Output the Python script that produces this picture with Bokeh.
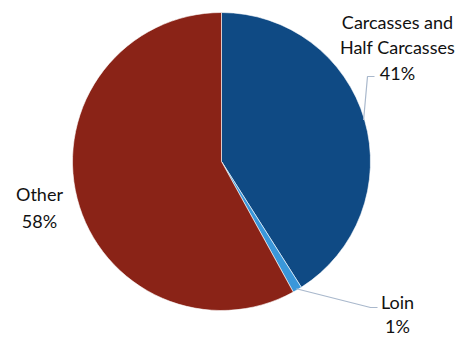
import numpy as np
from bokeh.plotting import figure
from bokeh.models import ColumnDataSource
from bokeh.core.properties import value
from bokeh.embed import file_html
from bokeh.resources import INLINE

categories = ["Carcasses and\nHalf Carcasses", "Loin", "Other"]
shares = [41, 1, 58]
colors = ["#0F4A84", "#3A97DA", "#8A2317"]

W, H = 461, 337
cx, cy, r = 221, H - 161, 149

total = float(sum(shares))
fr = np.array(shares) / total
cum = np.concatenate([[0], np.cumsum(fr)])
start = np.pi / 2 - 2 * np.pi * cum[:-1]
end = np.pi / 2 - 2 * np.pi * cum[1:]

p = figure(width=W, height=H, x_range=(0, W), y_range=(0, H),
           output_backend="svg", toolbar_location=None, min_border=0,
           outline_line_color=None)
p.axis.visible = False
p.grid.visible = False
p.background_fill_color = "white"

src = ColumnDataSource(dict(start=start, end=end, color=colors))
p.wedge(x=cx, y=cy, radius=r, start_angle="start", end_angle="end",
        direction="clock", fill_color="color", line_color="white",
        line_width=0.6, source=src)

# leader lines from slice mid-angles
mid = (start + end) / 2
ax = cx + r * np.cos(mid)
ay = cy + r * np.sin(mid)
p.line([ax[0] - 1, 367, 374], [ay[0], H - 76, H - 76], line_color="#A9B8CC", line_width=1.2)
p.line([ax[1] - 1, 370, 377], [ay[1] + 1, H - 307, H - 307], line_color="#A9B8CC", line_width=1.2)

# label lines, one text per line
lx, ly, lt = [], [], []
label_x = [397, 397, 39]
label_y_px = [[21, 46, 72], [301, 325], [193, 220]]
for c, s, x0, ys in zip(categories, shares, label_x, label_y_px):
    parts = c.split("\n") + [f"{s}%"]
    for t, yy in zip(parts, ys):
        lx.append(x0)
        ly.append(H - yy)
        lt.append(t)
p.text(x=lx, y=ly, text=lt, text_align="center", text_baseline="middle",
       text_font=value("Lato"), text_font_size="18px", text_color="#111111")

open("out.html", "w").write(file_html(p, INLINE))
